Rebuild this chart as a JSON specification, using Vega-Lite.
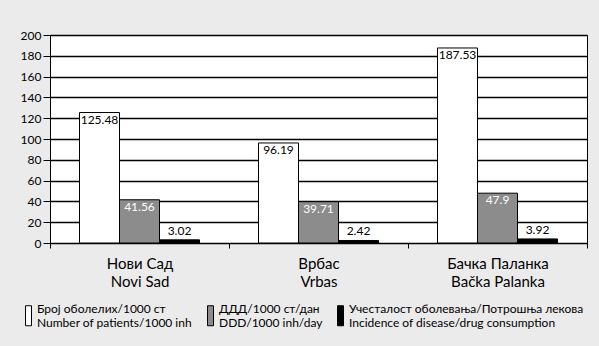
{
  "$schema": "https://vega.github.io/schema/vega-lite/v6.json",
  "width": 537,
  "height": 208,
  "autosize": "none",
  "padding": {"left": 50, "top": 35, "right": 12, "bottom": 103},
  "background": "#ebebeb",
  "config": {
    "font": "Lato",
    "view": {"fill": "white", "stroke": "black", "strokeWidth": 1}
  },
  "data": {
    "values": [
      {"city": "Нови Сад|Novi Sad", "series": "Број оболелих/1000 ст|Number of patients/1000 inh", "value": 125.48},
      {"city": "Нови Сад|Novi Sad", "series": "ДДД/1000 ст/дан|DDD/1000 inh/day", "value": 41.56},
      {"city": "Нови Сад|Novi Sad", "series": "Учесталост оболевања/Потрошња лекова|Incidence of disease/drug consumption", "value": 3.02},
      {"city": "Врбас|Vrbas", "series": "Број оболелих/1000 ст|Number of patients/1000 inh", "value": 96.19},
      {"city": "Врбас|Vrbas", "series": "ДДД/1000 ст/дан|DDD/1000 inh/day", "value": 39.71},
      {"city": "Врбас|Vrbas", "series": "Учесталост оболевања/Потрошња лекова|Incidence of disease/drug consumption", "value": 2.42},
      {"city": "Бачка Паланка|Bačka Palanka", "series": "Број оболелих/1000 ст|Number of patients/1000 inh", "value": 187.53},
      {"city": "Бачка Паланка|Bačka Palanka", "series": "ДДД/1000 ст/дан|DDD/1000 inh/day", "value": 47.9},
      {"city": "Бачка Паланка|Bačka Palanka", "series": "Учесталост оболевања/Потрошња лекова|Incidence of disease/drug consumption", "value": 3.92}
    ]
  },
  "encoding": {
    "x": {
      "field": "city", "type": "nominal", "sort": null, "title": null,
      "scale": {"paddingInner": 0, "paddingOuter": 0},
      "axis": {
        "labelExpr": "split(datum.label, '|')",
        "labelAngle": 0, "labelFontSize": 15, "labelLineHeight": 18, "labelColor": "black",
        "labelPadding": 8, "tickBand": "extent", "tickSize": 5, "tickColor": "black",
        "domainColor": "black", "grid": false
      }
    },
    "xOffset": {
      "field": "series", "type": "nominal", "sort": null,
      "scale": {"paddingInner": 0, "paddingOuter": 0.7375}
    },
    "y": {
      "field": "value", "type": "quantitative", "title": null,
      "scale": {"domain": [0, 200], "nice": false},
      "axis": {
        "values": [0, 20, 40, 60, 80, 100, 120, 140, 160, 180, 200],
        "labelFontSize": 12, "labelColor": "black", "labelPadding": 2,
        "tickSize": 7, "tickColor": "black", "domainColor": "black",
        "gridColor": "#000", "gridOpacity": 1, "gridWidth": 1.3
      }
    }
  },
  "layer": [
    {
      "mark": {"type": "bar", "stroke": "black", "strokeWidth": 1},
      "encoding": {
        "fill": {
          "field": "series", "type": "nominal", "sort": null,
          "scale": {"range": ["white", "#8c8c8c", "black"]},
          "legend": {
            "orient": "none", "legendX": -32, "legendY": 270,
            "direction": "horizontal", "columns": 3, "title": null,
            "padding": 0, "columnPadding": 7,
            "labelExpr": "split(datum.label, '|')",
            "labelFontSize": 12, "labelLineHeight": 11, "labelColor": "black", "labelLimit": 400,
            "labelOffset": -2, "labelBaseline": "bottom",
            "symbolType": "M-0.3,-1H0.3V1H-0.3Z", "symbolSize": 400,
            "symbolStrokeColor": "black", "symbolStrokeWidth": 1
          }
        }
      }
    },
    {
      "transform": [{"filter": "indexof(datum.series, 'Incidence') < 0"}],
      "mark": {"type": "text", "baseline": "top", "dy": 2, "fontSize": 12},
      "encoding": {
        "text": {"field": "value", "type": "quantitative"},
        "color": {"condition": {"test": "indexof(datum.series, 'DDD') >= 0", "value": "white"}, "value": "black"}
      }
    },
    {
      "transform": [{"filter": "indexof(datum.series, 'Incidence') >= 0"}],
      "mark": {"type": "text", "baseline": "bottom", "dy": -2, "fontSize": 12, "color": "black"},
      "encoding": {
        "text": {"field": "value", "type": "quantitative"}
      }
    }
  ]
}
